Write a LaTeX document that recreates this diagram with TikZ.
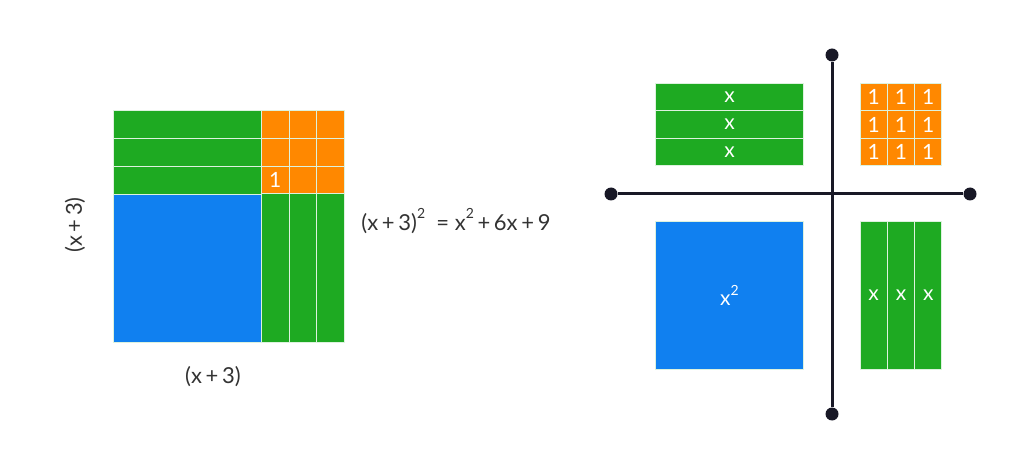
\documentclass[tikz,border=0pt]{standalone}
\usepackage{fontspec}
\setmainfont{Lato}
\usepackage{tikz}
\usetikzlibrary{positioning}
\usepackage{xcolor}
\definecolor{ColGreen}{RGB}{30,170,34}
\definecolor{ColBlue}{RGB}{16,128,240}
\definecolor{ColOrange}{RGB}{255,136,0}
\definecolor{ColAxis}{RGB}{24,24,38}
\newcommand{\SupTwo}{\raisebox{1ex}{\fontsize{14}{14}\selectfont 2}}
\tikzstyle{Tile}=[rectangle,draw=white!85!ColGreen,line width=1pt,inner sep=0pt,
text=white,font=\fontsize{21}{21}\selectfont]
\tikzstyle{TileX}=[Tile,fill=ColGreen]
\tikzstyle{TileOne}=[Tile,fill=ColOrange]
\tikzstyle{TileSq}=[Tile,fill=ColBlue]
\tikzstyle{AxisDot}=[circle,fill=ColAxis,inner sep=0pt,minimum size=13pt]
\tikzstyle{AxisLine}=[ColAxis,line width=3pt]
\tikzstyle{Label}=[font=\fontsize{22}{22}\selectfont,text=black!80]

\begin{document}
\begin{tikzpicture}[x=1pt,y=-1pt]
        \useasboundingbox (0,0) rectangle (1025,470);
        % left: the square (x+3)^2
        \node[TileSq,minimum width=148pt,minimum height=148pt](sqL)at(187,268){};
        \foreach \r/\y in {1/124.8,2/152.5,3/180.2}{
            \node[TileX,minimum width=148pt,minimum height=27.7pt](xhL\r)at(187,\y){};
            \foreach \c/\x in {1/275.2,2/303,3/330.7}
                \node[TileOne,minimum size=27.7pt](oneL\r\c)at(\x,\y){};
        }
        \foreach \c/\x in {1/275.2,2/303,3/330.7}
            \node[TileX,minimum width=27.7pt,minimum height=148pt](xvL\c)at(\x,268){};
        \node[text=white,font=\fontsize{21}{21}\selectfont]at(oneL31){1};
        \node[Label,rotate=90](sideL)at(75,225){(x\,+\,3)};
        \node[Label](baseL)at(213,377){(x\,+\,3)};
        \node[Label](eq)at(456,221){(x\,+\,3)\SupTwo\ \ =\ x\SupTwo\,+\,6x\,+\,9};
        % right: the tiles around the axes
        \node[AxisDot](top)at(832,55){};
        \node[AxisDot](bot)at(832,414){};
        \node[AxisDot](lft)at(611,194){};
        \node[AxisDot](rgt)at(970,194){};
        \draw[AxisLine](top)--(bot);
        \draw[AxisLine](lft)--(rgt);
        \foreach \r/\y in {1/97,2/124.6,3/152.2}{
            \node[TileX,minimum width=148pt,minimum height=27.6pt](xhR\r)at(729.5,\y){x};
            \foreach \c/\x in {1/873.7,2/901,3/928.3}
                \node[TileOne,minimum width=27.3pt,minimum height=27.6pt](oneR\r\c)at(\x,\y){1};
        }
        \node[TileSq,minimum width=148pt,minimum height=147.6pt](sqR)at(729.5,295.5){x\SupTwo};
        \foreach \c/\x in {1/873.7,2/901,3/928.3}
            \node[TileX,minimum width=27.3pt,minimum height=147.6pt](xvR\c)at(\x,295.5){x};
    \end{tikzpicture}
\end{document}
